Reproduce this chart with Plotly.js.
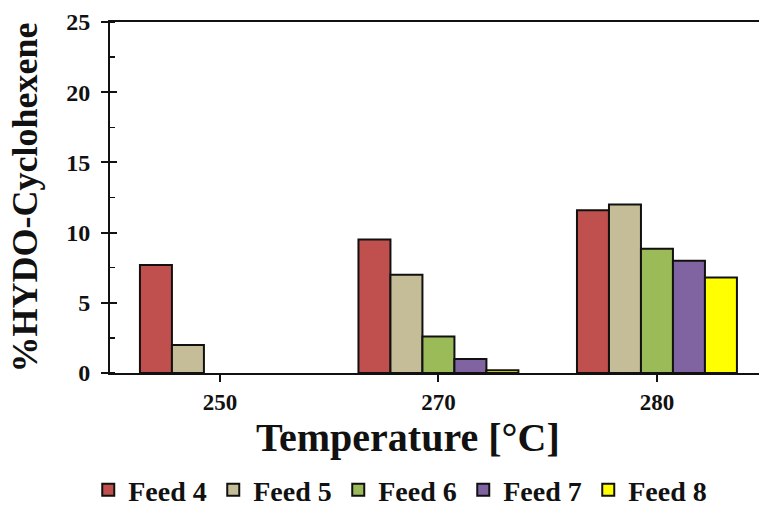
<!DOCTYPE html>
<html>
<head>
<meta charset="utf-8">
<script src="https://cdn.plot.ly/plotly-3.0.1.min.js"></script>
<style>html,body{margin:0;padding:0;background:#fff;}#chart{width:759px;height:515px;}</style>
</head>
<body>
<div id="chart"></div>
<script>
const temperatures = ['250', '270', '280'];
const seriesNames = ['Feed 4', 'Feed 5', 'Feed 6', 'Feed 7', 'Feed 8'];
const feed4 = [7.7, 9.5, 11.6];
const feed5 = [2.0, 7.0, 12.0];
const feed6 = [null, 2.6, 8.85];
const feed7 = [null, 1.0, 8.0];
const feed8 = [null, 0.2, 6.8];
const seriesColors = ['#C0504D', '#C4BD97', '#9BBB59', '#8064A2', '#FFFF00'];
const yTicks = [0, 5, 10, 15, 20, 25];
const xTitle = 'Temperature [°C]';
const yTitle = '%HYDO-Cyclohexene';

const allValues = [feed4, feed5, feed6, feed7, feed8];
const FONT = 'Liberation Serif, Times New Roman, serif';

const traces = allValues.map((vals, i) => ({
  type: 'bar',
  name: seriesNames[i],
  x: temperatures,
  y: vals,
  marker: {color: seriesColors[i], line: {color: '#111', width: 2}},
  hoverinfo: 'skip'
}));
// invisible trace on an overlay axis to draw the inward half of the major ticks
traces.push({type: 'scatter', x: [temperatures[0]], y: [0], yaxis: 'y2', mode: 'markers',
  marker: {opacity: 0}, showlegend: false, hoverinfo: 'skip'});

const layout = {
  width: 759, height: 515,
  margin: {l: 110, r: 0, t: 22, b: 142},
  paper_bgcolor: '#fff', plot_bgcolor: '#fff',
  barmode: 'group', bargap: 0.268, bargroupgap: 0,
  font: {family: FONT, color: '#111', size: 22},
  showlegend: true,
  legend: {orientation: 'h', xref: 'container', yref: 'container', x: 0.528, xanchor: 'center',
    y: 0, yanchor: 'bottom', font: {family: FONT, size: 28, color: '#111', weight: 'bold'},
    entrywidth: 80, entrywidthmode: 'pixels', traceorder: 'normal'},
  annotations: [{
    text: xTitle, xref: 'paper', yref: 'paper', x: 0.459, y: -0.183, xanchor: 'center', yanchor: 'middle',
    showarrow: false, font: {family: FONT, size: 40, weight: 'bold', color: '#111'}
  }],
  xaxis: {
    type: 'category', range: [-0.503, 2.467],
    showline: true, linecolor: '#111', linewidth: 2, mirror: true,
    ticks: 'outside', ticklen: 7, tickwidth: 2, tickcolor: '#111',
    tickfont: {family: FONT, size: 23, weight: 'bold'},
    ticklabelstandoff: 0,
    showgrid: false, zeroline: false, fixedrange: true
  },
  yaxis: {
    range: [0, 25], tickvals: yTicks,
    showline: true, linecolor: '#111', linewidth: 2,
    ticks: 'outside', ticklen: 7, tickwidth: 2, tickcolor: '#111',
    minor: {dtick: 2.5, ticks: 'inside', ticklen: 5, tickwidth: 1.5, tickcolor: '#111', showgrid: false},
    tickfont: {family: FONT, size: 24, weight: 'bold'},
    ticklabelstandoff: 6,
    title: {text: yTitle, font: {family: FONT, size: 36, weight: 'bold'}, standoff: 18},
    showgrid: false, zeroline: false, fixedrange: true
  },
  yaxis2: {
    overlaying: 'y', range: [0, 25], tickvals: yTicks, ticks: 'inside', ticklen: 7, tickwidth: 2,
    tickcolor: '#111', showticklabels: false, showgrid: false, zeroline: false, showline: false,
    side: 'left', fixedrange: true
  }
};

Plotly.newPlot('chart', traces, layout, {displayModeBar: false, staticPlot: true});
</script>
</body>
</html>
